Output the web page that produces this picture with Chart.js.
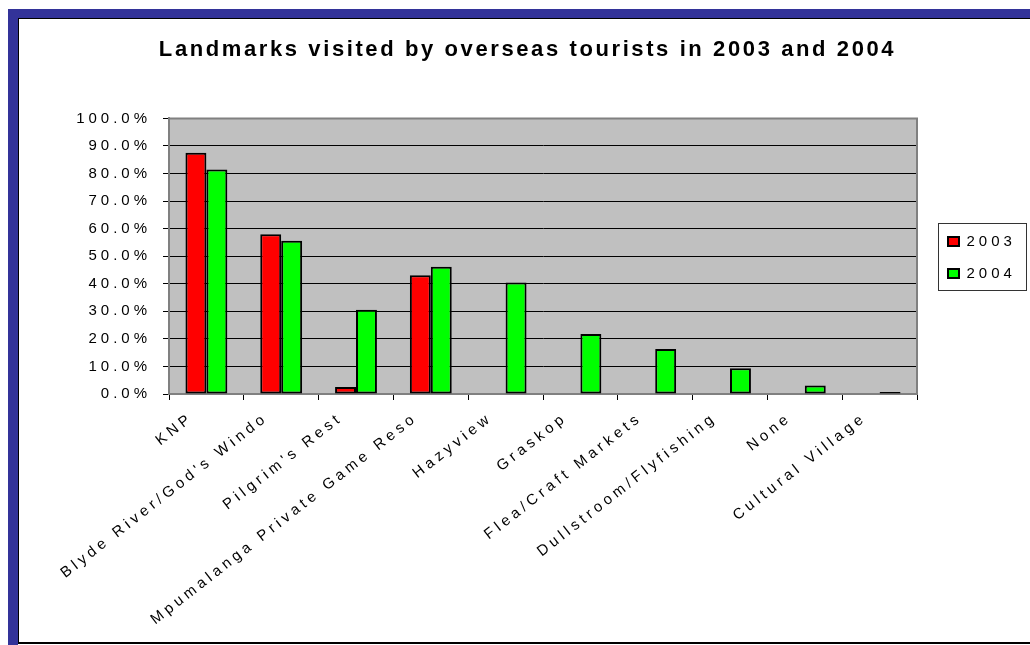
<!DOCTYPE html>
<html>
<head>
<meta charset="utf-8">
<title>Landmarks visited by overseas tourists</title>
<script src="https://cdn.jsdelivr.net/npm/chart.js@4"></script>
<style>
  html, body { margin: 0; padding: 0; background: #fff; }
  body { width: 1030px; height: 645px; position: relative; overflow: hidden; }
  .frame { position: absolute; left: 8px; top: 9px; width: 1100px; height: 636px; box-sizing: border-box;
           border-left: 10px solid #333399; border-top: 9px solid #333399; }
  .sheet { position: absolute; left: 0; top: 0; right: 0; height: 623px; background: #fff;
           border-left: 1px solid #000; border-top: 1px solid #000; border-bottom: 2px solid #000; }
  #chart { position: absolute; left: 0; top: 0; }
</style>
</head>
<body>
<div class="frame"><div class="sheet"></div></div>
<canvas id="chart" width="1030" height="645"></canvas>
<script>
// landmarks (as printed under the axis) and share of visitors, in %
const categories = ['KNP', "Blyde River/God's Windo", "Pilgrim's Rest", 'Mpumalanga Private Game Reso',
    'Hazyview', 'Graskop', 'Flea/Craft Markets', 'Dullstroom/Flyfishing', 'None', 'Cultural Village'];
const years = ['2003', '2004'];
const visits2003 = [87.5, 58.0, 2.5, 43.1, null, null, null, null, null, null];
const visits2004 = [81.5, 55.6, 30.6, 46.2, 40.5, 21.8, 16.3, 9.3, 3.1, 0.7];
const yTicks = [0, 10, 20, 30, 40, 50, 60, 70, 80, 90, 100];

Chart.defaults.font.family = "'Liberation Sans', Arial, sans-serif";
Chart.defaults.color = '#000';

// grey plot area, plot frame, boxed legend, wide letter spacing
const excelLook = {
    id: 'excelLook',
    afterInit(chart) {
        const legend = chart.legend;
        const fit = legend.fit;
        legend.fit = function () {
            fit.call(this);
            this.width = 113;
        };
        // title is set a little tighter than the axis text
        const title = chart.titleBlock;
        const draw = title.draw;
        title.draw = function () {
            const ctx = this.ctx;
            const prev = ctx.letterSpacing;
            ctx.letterSpacing = '2.6px';
            draw.call(this);
            ctx.letterSpacing = prev;
        };
    },
    beforeLayout(chart) {
        chart.ctx.letterSpacing = '4px';
    },
    afterLayout(chart) {
        const l = chart.legend;
        l.left += 14;
        l.right += 14;
        l.top -= 65;
        l.bottom -= 65;
    },
    beforeDraw(chart) {
        const { ctx, chartArea: a } = chart;
        ctx.letterSpacing = '4px';
        ctx.save();
        ctx.fillStyle = '#c0c0c0';
        ctx.fillRect(a.left, a.top, a.right - a.left, a.bottom - a.top);
        ctx.restore();
    },
    afterDraw(chart) {
        const { ctx, chartArea: a, legend } = chart;
        ctx.save();
        ctx.strokeStyle = '#808080';
        ctx.lineWidth = 2;
        ctx.beginPath();
        ctx.moveTo(a.left, a.top);
        ctx.lineTo(a.right, a.top);
        ctx.lineTo(a.right, a.bottom);
        ctx.stroke();

        const hb = legend.legendHitBoxes;
        const first = hb[0], last = hb[hb.length - 1];
        const x0 = first.left - 9.5, y0 = first.top - 10.5;
        const y1 = last.top + last.height + 9.5;
        ctx.strokeStyle = '#333';
        ctx.lineWidth = 1;
        ctx.strokeRect(x0, y0, 88, y1 - y0);
        ctx.restore();
    }
};

new Chart(document.getElementById('chart').getContext('2d'), {
    type: 'bar',
    data: {
        labels: categories,
        datasets: [{
            label: years[0],
            data: visits2003,
            backgroundColor: '#ff0000',
            borderColor: '#000',
            borderWidth: 2,
            borderSkipped: false
        }, {
            label: years[1],
            data: visits2004,
            backgroundColor: '#00ff00',
            borderColor: '#000',
            borderWidth: 2,
            borderSkipped: false
        }]
    },
    options: {
        responsive: false,
        animation: false,
        datasets: {
            bar: {
                categoryPercentage: 0.56,
                barPercentage: 1.0
            }
        },
        layout: {
            padding: { left: 25, right: 0, top: 0, bottom: 0 }
        },
        plugins: {
            title: {
                display: true,
                text: 'Landmarks visited by overseas tourists in 2003 and 2004',
                font: { size: 22, weight: 'bold' },
                color: '#000',
                padding: { top: 37, bottom: 55 }
            },
            legend: {
                position: 'right',
                labels: {
                    font: { size: 15 },
                    boxWidth: 11,
                    boxHeight: 9,
                    padding: 17,
                    color: '#000'
                }
            },
            tooltip: { enabled: false }
        },
        scales: {
            x: {
                afterFit(scale) {
                    scale.height = 645 - 394;
                },
                grid: {
                    offset: true,
                    drawOnChartArea: false,
                    drawTicks: true,
                    tickLength: 6,
                    tickColor: '#000'
                },
                border: { color: '#808080', width: 2 },
                ticks: {
                    autoSkip: false,
                    minRotation: 38,
                    maxRotation: 38,
                    labelOffset: -15,
                    padding: 9,
                    font: { size: 15 }
                }
            },
            y: {
                min: 0,
                max: 100,
                afterFit(scale) {
                    scale.width = 169 - 25;
                },
                afterBuildTicks(scale) {
                    scale.ticks = yTicks.map(v => ({ value: v }));
                },
                grid: {
                    color: ctx => (ctx.tick && (ctx.tick.value === 100 || ctx.tick.value === 0)) ? '#808080' : '#000',
                    lineWidth: 1,
                    tickLength: 6,
                    tickColor: '#000'
                },
                border: { color: '#808080', width: 2 },
                ticks: {
                    padding: 12,
                    font: { size: 15 },
                    callback: v => v.toFixed(1) + '%'
                }
            }
        }
    },
    plugins: [excelLook]
});
</script>
</body>
</html>
